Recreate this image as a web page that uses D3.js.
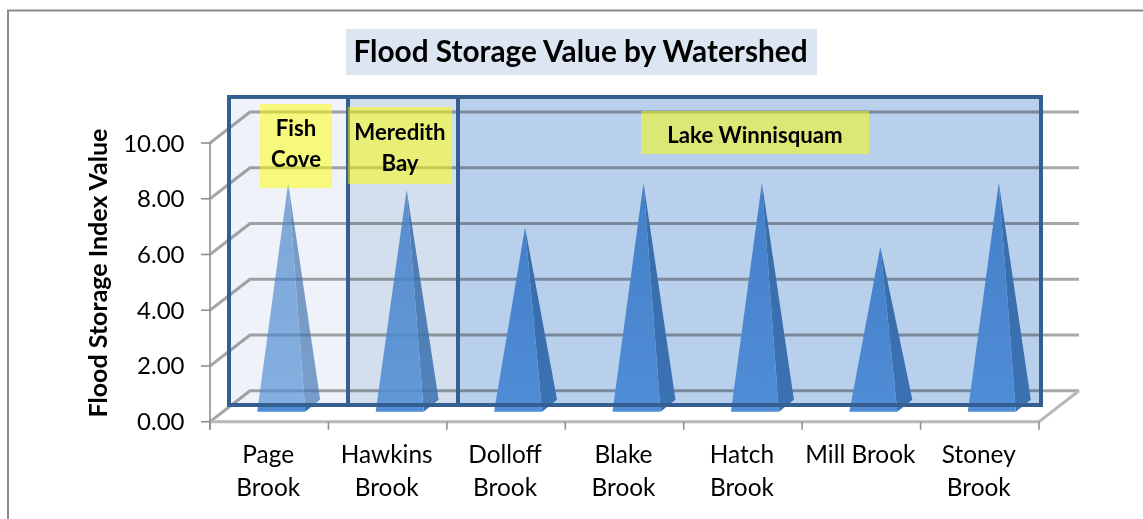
<!DOCTYPE html>
<html>
<head>
<meta charset="utf-8">
<script src="https://cdn.jsdelivr.net/npm/d3@7/dist/d3.min.js"></script>
<style>
html,body{margin:0;padding:0;background:#fff;overflow:hidden}
svg{display:block}
text{font-family:Lato,"Open Sans",sans-serif;fill:#000}
</style>
</head>
<body>
<svg id="chart" width="1143" height="519"></svg>
<script>
// Watersheds and their flood storage index values
const categories = ["Page Brook","Hawkins Brook","Dolloff Brook","Blake Brook","Hatch Brook","Mill Brook","Stoney Brook"];
const categoryLines = [["Page","Brook"],["Hawkins","Brook"],["Dolloff","Brook"],["Blake","Brook"],["Hatch","Brook"],["Mill Brook"],["Stoney","Brook"]];
const values = [8.0,7.75,6.4,8.0,8.0,5.7,8.0];
const yTicks = [0,2,4,6,8,10];

// Layout of the pseudo-3D plot box
const floorLeft = 210, floorRight = 1039, floorFront = 421.7, top10 = 143;
const wallDx = 40, wallDy = 31;            // front-to-back shift of the wall
const barHalf = 24, barDx = 15, barDy = 12; // pyramid base half-width and depth
const barShiftX = 12, barShiftY = 16;      // where the bars stand on the floor

const svg = d3.select("#chart");
const x = d3.scaleBand().domain(categories).range([floorLeft, floorRight]);
const y = d3.scaleLinear().domain([0,10]).range([floorFront, top10]);

// Soft shading on the pyramid faces
const defs = svg.append("defs");
const faceGradient = (id, a, b) => {
  const g = defs.append("linearGradient").attr("id",id).attr("x1",0).attr("y1",0).attr("x2",0).attr("y2",1);
  g.append("stop").attr("offset",0).attr("stop-color",a);
  g.append("stop").attr("offset",1).attr("stop-color",b);
};
faceGradient("frontFace","#4580c8","#4f8dd6");
faceGradient("sideFace","#386ca8","#3b72b4");

// Outer chart border: top and left edges only
svg.append("path").attr("d","M8,519V10.5H1143").attr("fill","none").attr("stroke","#8a8a8a").attr("stroke-width",2);

// Title
svg.append("rect").attr("x",346).attr("y",29).attr("width",471).attr("height",46).attr("fill","#dce6f2");
svg.append("text").attr("x",580.5).attr("y",62).attr("text-anchor","middle").attr("font-size",29.8).attr("font-weight",700).text("Flood Storage Value by Watershed");

// Back wall gridlines and their diagonal side-wall returns
const grid = svg.append("g").attr("fill","none").attr("stroke","#a8a8a8").attr("stroke-width",3);
yTicks.forEach(t => {
  const yy = y(t);
  grid.append("path").attr("d",`M${floorLeft},${yy}L${floorLeft+wallDx},${yy-wallDy}H${floorRight+wallDx}`);
});
// Floor front edge and right-hand return
grid.append("path").attr("d",`M${floorLeft},${y(0)}H${floorRight}L${floorRight+wallDx},${y(0)-wallDy}`).attr("stroke","#b8b8b8");

// Axes: left value axis and category tick marks
const axisG = svg.append("g").attr("stroke","#8f8f8f").attr("stroke-width",1.6).attr("fill","none");
axisG.append("line").attr("x1",floorLeft).attr("x2",floorLeft).attr("y1",y(10)).attr("y2",y(0)+8);
yTicks.forEach(t => axisG.append("line").attr("x1",floorLeft-9).attr("x2",floorLeft).attr("y1",y(t)).attr("y2",y(t)));
categories.concat([null]).forEach((c,i) => {
  const xx = floorLeft + i*x.bandwidth();
  axisG.append("line").attr("x1",xx).attr("x2",xx).attr("y1",y(0)).attr("y2",y(0)+8);
});

svg.append("g").selectAll("text").data(yTicks).join("text")
  .attr("x",184.5).attr("y",d=>y(d)+8.5).attr("text-anchor","end").attr("font-size",24).text(d=>d.toFixed(2));

svg.append("text").attr("transform","translate(106.5,273) rotate(-90)").attr("text-anchor","middle")
  .attr("font-size",25).attr("font-weight",700).text("Flood Storage Index Value");

svg.append("g").selectAll("g").data(categoryLines).join("g").each(function(lines,i){
  const cx = x(categories[i]) + x.bandwidth()/2 - 1;
  d3.select(this).selectAll("text").data(lines).join("text")
    .attr("x",cx).attr("y",(d,j)=>463+j*33).attr("text-anchor","middle").attr("font-size",24.4).text(d=>d);
});

// Watershed panels behind the pyramids; multiplied so the gridlines darken through them
const panelTop = 97, panelBottom = 405;
const panels = [
  {x0:229,x1:348,fill:"#eff3f9",barAlpha:0.66},
  {x0:348,x1:458,fill:"#d3dfec",barAlpha:0.85},
  {x0:458,x1:1041,fill:"#b9d0ec",barAlpha:1}
];
svg.append("g").selectAll("rect").data(panels).join("rect")
  .attr("x",d=>d.x0).attr("y",panelTop).attr("width",d=>d.x1-d.x0).attr("height",panelBottom-panelTop)
  .attr("fill",d=>d.fill).style("mix-blend-mode","multiply");

// Pyramids: a front face and a shaded right face meeting at the apex.
// The strip of base below the panels stays at full strength.
defs.append("clipPath").attr("id","insidePanels").append("rect").attr("x",0).attr("y",0).attr("width",1143).attr("height",panelBottom);
defs.append("clipPath").attr("id","belowPanels").append("rect").attr("x",0).attr("y",panelBottom).attr("width",1143).attr("height",519-panelBottom);

const barAlpha = c => panels.find(p => c >= p.x0 && c < p.x1).barAlpha;
const drawFaces = (g, v, i) => {
  const cx = x(categories[i]) + x.bandwidth()/2 + barShiftX;
  const by = y(0) - barShiftY + barDy/2;
  const ax = cx + barDx/2 - 0.5, ay = y(v) - barShiftY;
  g.append("path").attr("d",`M${cx+barHalf},${by}L${cx+barHalf+barDx},${by-barDy}L${ax},${ay}Z`).attr("fill","url(#sideFace)");
  g.append("path").attr("d",`M${cx-barHalf},${by}L${cx+barHalf},${by}L${ax},${ay}Z`).attr("fill","url(#frontFace)");
};
svg.append("g").attr("clip-path","url(#insidePanels)").selectAll("g").data(values).join("g").each(function(v,i){
  const cx = x(categories[i]) + x.bandwidth()/2 + barShiftX;
  drawFaces(d3.select(this).attr("opacity",barAlpha(cx)), v, i);
});
svg.append("g").attr("clip-path","url(#belowPanels)").selectAll("g").data(values).join("g").each(function(v,i){
  drawFaces(d3.select(this), v, i);
});

// Dark frame around the panels
const frame = svg.append("g").attr("fill","none").attr("stroke","#365f91").attr("stroke-width",4);
frame.append("rect").attr("x",229).attr("y",panelTop).attr("width",812).attr("height",panelBottom-panelTop);
[348,458].forEach(d => frame.append("line").attr("x1",d).attr("x2",d).attr("y1",panelTop).attr("y2",panelBottom));

// Yellow watershed labels
const labelBoxes = [
  {x:260,y:104,w:72,h:84,lines:["Fish","Cove"],first:136},
  {x:348,y:107,w:104,h:77,lines:["Meredith","Bay"],first:140},
  {x:641,y:111,w:228,h:43,lines:["Lake Winnisquam"],first:143}
];
labelBoxes.forEach(b => {
  svg.append("rect").attr("x",b.x).attr("y",b.y).attr("width",b.w).attr("height",b.h).attr("fill","#ffff00").attr("fill-opacity",0.5);
  b.lines.forEach((t,j) => svg.append("text").attr("x",b.x+b.w/2).attr("y",b.first+j*30.5)
    .attr("text-anchor","middle").attr("font-size",22.2).attr("font-weight",700).text(t));
});
</script>
</body>
</html>
